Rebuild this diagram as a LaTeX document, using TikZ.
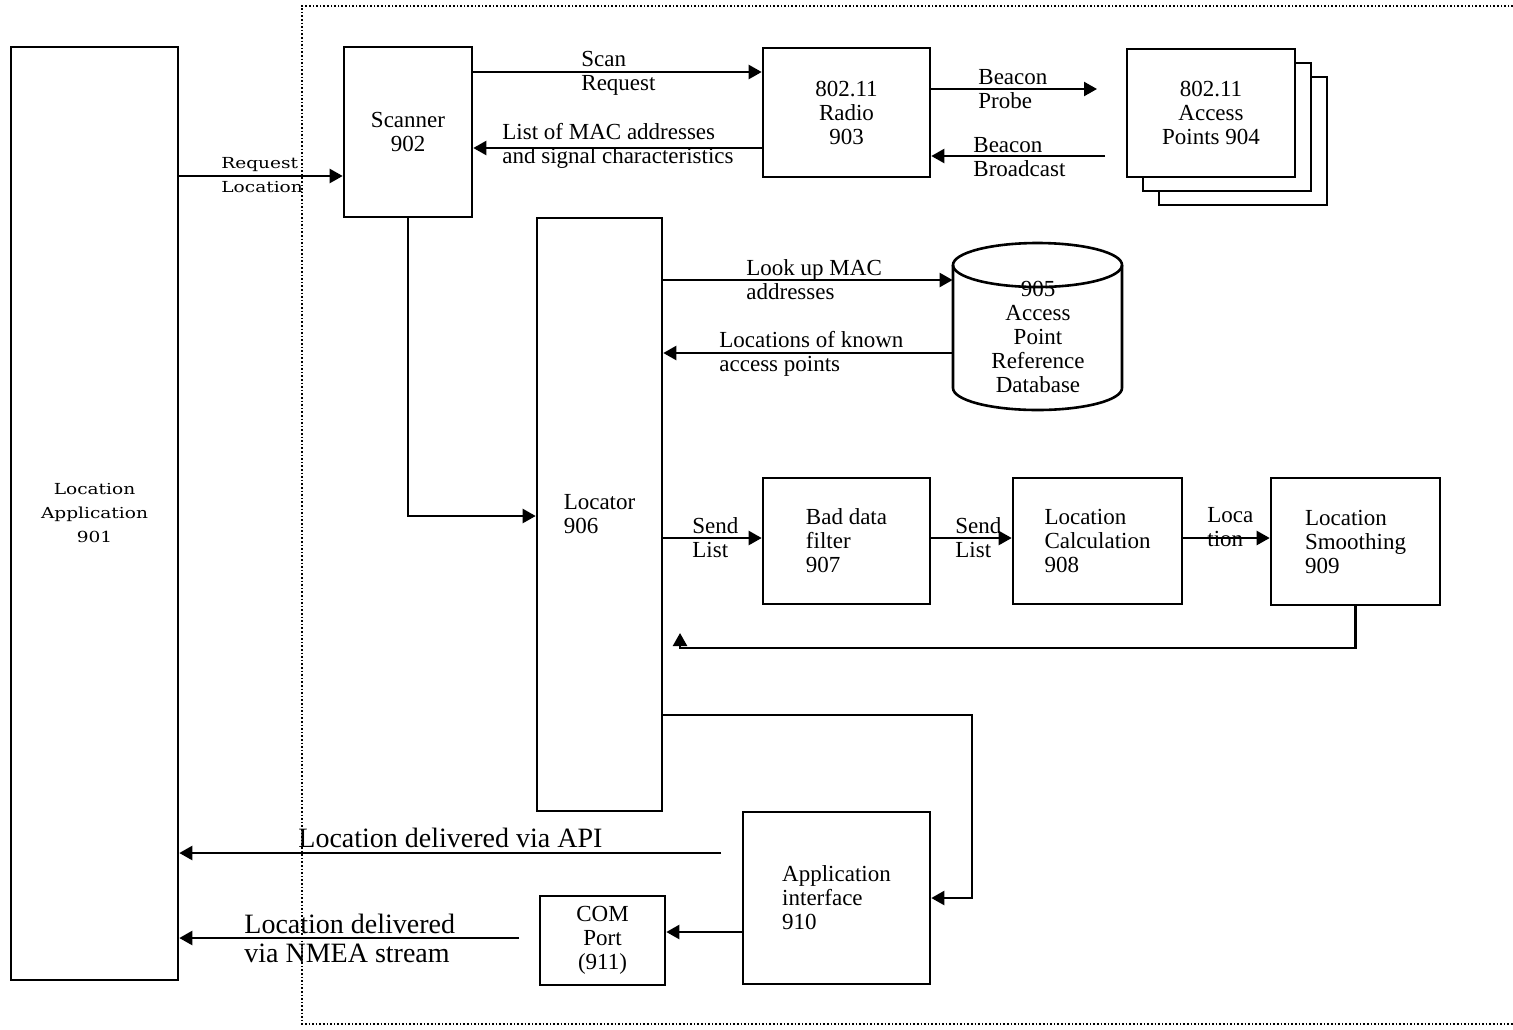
\documentclass[tikz,border=0pt]{standalone}
\usepackage{fontspec}
\setmainfont{Liberation Serif}
\newfontfamily\widefont[FakeStretch=1.22]{DejaVu Serif}
\usetikzlibrary{arrows.meta}

\tikzset{
    box/.style={draw, line width=1.3pt, fill=white, rectangle, inner sep=0pt},
    arr/.style={line width=1.15pt, -{Triangle[length=6.5pt,width=7pt]}},
    lbl/.style={anchor=west, inner sep=0pt, align=left},
    big/.style={font=\fontsize{14}{14.5}\selectfont},
    wide/.style={font=\widefont\fontsize{7.6}{12}\selectfont},
}

\begin{document}
\begin{tikzpicture}[x=0.5pt,y=-0.5pt,font=\fontsize{11.5}{12}\selectfont]
    \useasboundingbox (0,0) rectangle (1513,1029);

    \draw[densely dotted, line width=0.8pt] (1513,6) -- (302,6) -- (302,1024) -- (1513,1024);

    \node[box, minimum width=83.5pt, minimum height=466.5pt, align=center, wide] (app) at (94.5,513.5) {Location\\Application\\901};
    \node[box, minimum width=64pt, minimum height=85pt, align=center] (scan) at (408,132) {Scanner\\902};
    \node[box, minimum width=83.5pt, minimum height=64.5pt, align=center] (radio) at (846.5,112.5) {802.11\\Radio\\903};

    \node[box, minimum width=84pt, minimum height=64pt] (ap3) at (1243,141) {};
    \node[box, minimum width=84pt, minimum height=64pt] (ap2) at (1227,127) {};
    \node[box, minimum width=84pt, minimum height=64pt, align=center] (ap) at (1211,113) {802.11\\Access\\Points 904};

    \node[box, minimum width=62.5pt, minimum height=296.5pt, align=left] (locr) at (599.5,514.5) {Locator\\906};

    % database cylinder
    \node[minimum width=84.5pt, minimum height=84pt, inner sep=0pt] (db) at (1037.5,326) {};
    \draw[line width=1.3pt] (1037.5,265) ellipse (42.25pt and 11pt);
    \draw[line width=1.3pt] (953,265) -- (953,388) arc (180:360:42.25pt and 11pt) -- (1122,265);
    \node[align=center, inner sep=0pt] (dbtext) at (1038,337) {905\\Access\\Point\\Reference\\Database};

    \node[box, minimum width=83.5pt, minimum height=63pt, align=left] (bad) at (846.5,541) {Bad data\\filter\\907};
    \node[box, minimum width=84.5pt, minimum height=63pt, align=left] (calc) at (1097.5,541) {Location\\Calculation\\908};
    \node[box, minimum width=84.5pt, minimum height=63.5pt, align=left] (smooth) at (1355.5,541.5) {Location\\Smoothing\\909};
    \node[box, minimum width=93.5pt, minimum height=86pt, align=left] (api) at (836.5,898) {Application\\interface\\910};
    \node[box, minimum width=62.5pt, minimum height=44.5pt, align=center] (com) at (602.5,940.5) {COM\\Port\\(911)};

    \coordinate (probeend) at (1097,89);
    \coordinate (bcstart) at (1105,156);
    \coordinate (fbend) at (680,633);
    \coordinate (apicorner) at (972,715);
    \coordinate (apistart) at (721,853);
    \coordinate (nmeastart) at (519,938);

    \draw[arr] (app.east |- 0,176) -- (scan.west |- 0,176);
    \draw[arr] (scan.east |- 0,72) -- (radio.west |- 0,72);
    \draw[arr] (radio.west |- 0,148) -- (scan.east |- 0,148);
    \draw[arr] (radio.east |- probeend) -- (probeend);
    \draw[arr] (bcstart) -- (radio.east |- bcstart);
    \draw[arr] (scan.south) |- (locr.west |- 0,516);
    \draw[arr] (locr.east |- 0,280) -- (db.west |- 0,280);
    \draw[arr] (db.west |- 0,353) -- (locr.east |- 0,353);
    \draw[arr] (locr.east |- 0,538) -- (bad.west |- 0,538);
    \draw[arr] (bad.east |- 0,538) -- (calc.west |- 0,538);
    \draw[arr] (calc.east |- 0,538) -- (smooth.west |- 0,538);
    \draw[arr] (smooth.south) |- (fbend |- 0,648) -- (fbend);
    \draw[arr] (locr.east |- apicorner) -- (apicorner) |- (api.east);
    \draw[arr] (apistart) -- (app.east |- apistart);
    \draw[arr] (api.west |- 0,932) -- (com.east |- 0,932);
    \draw[arr] (nmeastart) -- (app.east |- nmeastart);

    \node[lbl, wide] (reqlbl) at (221,175) {Request\\Location};
    \node[lbl] (scanlbl) at (581,73) {Scan\\Request};
    \node[lbl] (listlbl) at (502,146) {List of MAC addresses\\and signal characteristics};
    \node[lbl] (probelbl) at (978,89) {Beacon\\Probe};
    \node[lbl] (bclbl) at (973,157) {Beacon\\Broadcast};
    \node[lbl] (lookuplbl) at (746,280) {Look up MAC\\addresses};
    \node[lbl] (knownlbl) at (719,354) {Locations of known\\access points};
    \node[lbl] (send1lbl) at (692,538) {Send\\List};
    \node[lbl] (send2lbl) at (955,538) {Send\\List};
    \node[lbl] (loclbl) at (1207,527) {Loca\\tion};
    \node[lbl, big] (apilbl) at (298,838) {Location delivered via API};
    \node[lbl, big] (nmealbl) at (244,938.5) {Location delivered\\via NMEA stream};
\end{tikzpicture}
\end{document}
